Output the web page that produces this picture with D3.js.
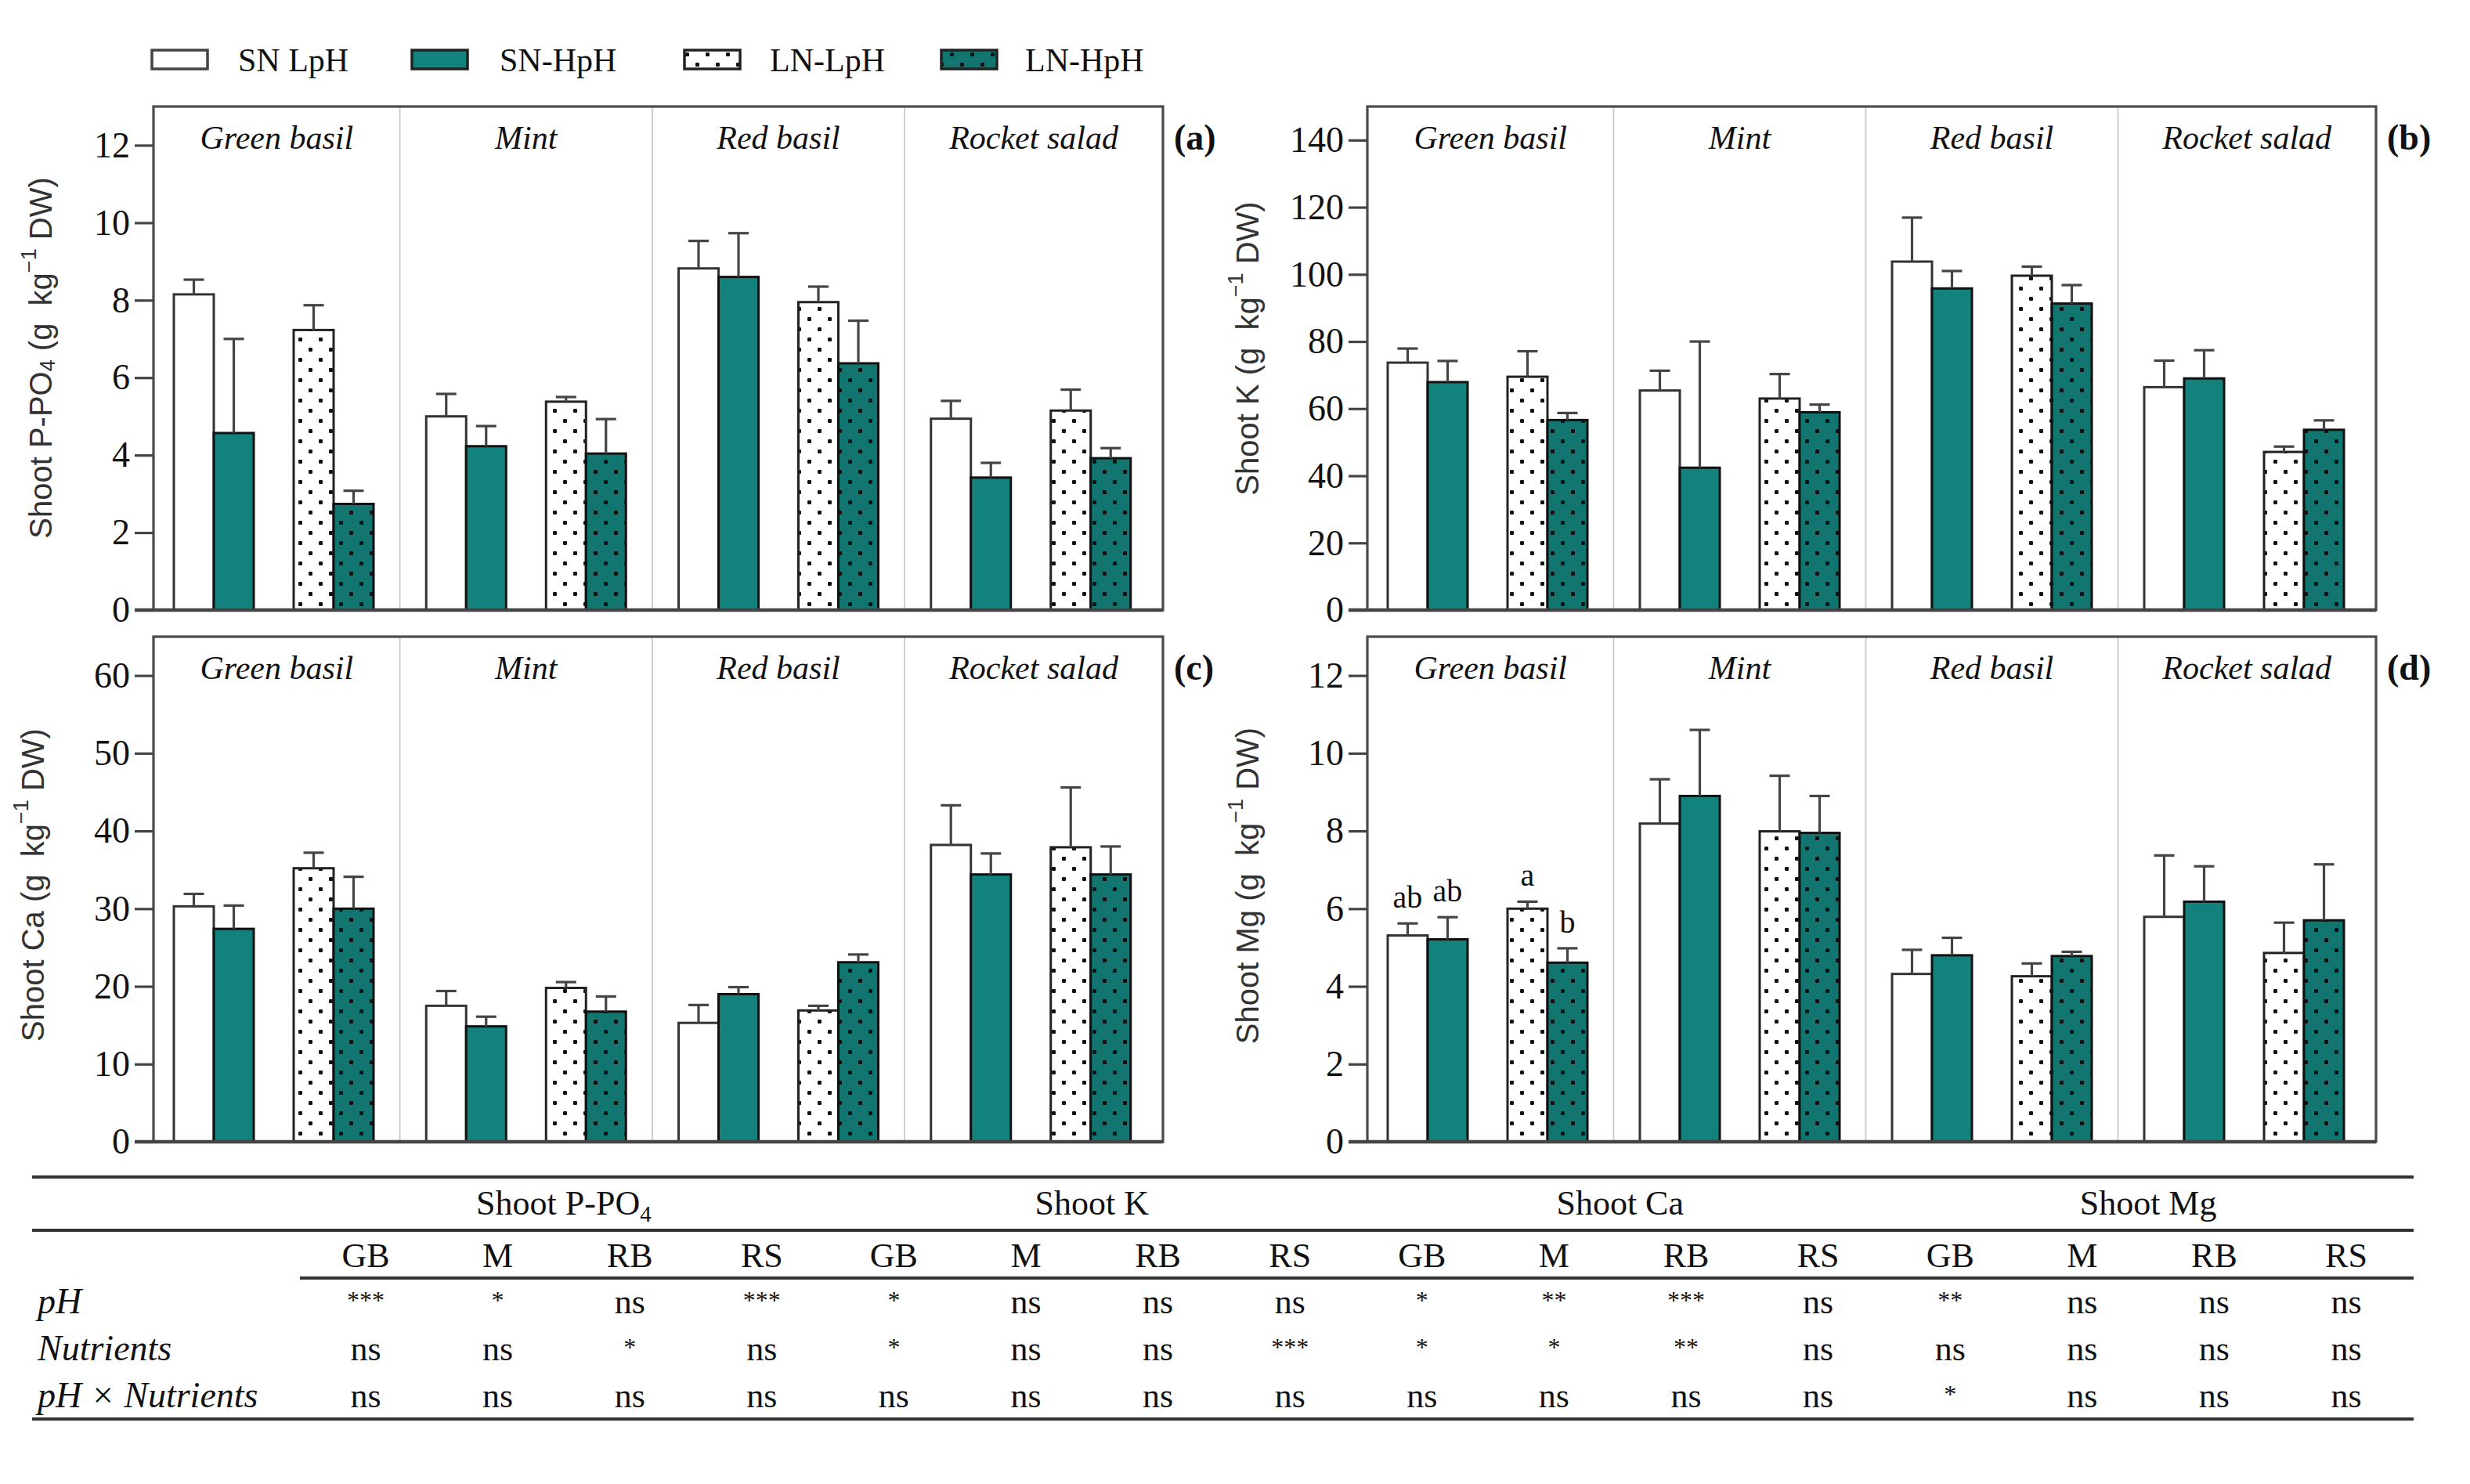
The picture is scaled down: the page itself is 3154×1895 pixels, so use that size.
<!DOCTYPE html>
<html>
<head>
<meta charset="utf-8">
<script src="https://cdn.jsdelivr.net/npm/d3@7"></script>
<style>
body { margin: 0; background: #fff; }
</style>
</head>
<body>
<svg id="chart"></svg>
<script>
var species = ["Green basil", "Mint", "Red basil", "Rocket salad"];
var treatments = ["SN LpH", "SN-HpH", "LN-LpH", "LN-HpH"];

// values per species in treatment order: SN LpH, SN-HpH, LN-LpH, LN-HpH
var pMean = [8.15, 4.57, 7.23, 2.74, 5.00, 4.23, 5.38, 4.04, 8.82, 8.60, 7.95, 6.37, 4.94, 3.42, 5.15, 3.92];
var pErr = [0.38, 2.43, 0.64, 0.34, 0.58, 0.52, 0.12, 0.89, 0.71, 1.13, 0.40, 1.10, 0.46, 0.38, 0.54, 0.26];
var kMean = [73.7, 67.9, 69.5, 56.6, 65.4, 42.4, 63.0, 58.9, 103.8, 95.8, 99.6, 91.3, 66.4, 69.0, 47.1, 53.7];
var kErr = [4.2, 6.3, 7.6, 2.1, 5.9, 37.6, 7.3, 2.3, 13.1, 5.2, 2.7, 5.5, 7.9, 8.4, 1.6, 2.8];
var caMean = [30.3, 27.4, 35.2, 30.0, 17.5, 14.85, 19.8, 16.75, 15.3, 19.0, 16.9, 23.1, 38.2, 34.4, 37.9, 34.4];
var caErr = [1.6, 3.0, 2.0, 4.1, 1.9, 1.25, 0.75, 1.95, 2.3, 0.9, 0.6, 1.0, 5.1, 2.7, 7.7, 3.6];
var mgMean = [5.31, 5.21, 6.00, 4.61, 8.19, 8.90, 7.99, 7.95, 4.32, 4.80, 4.26, 4.78, 5.79, 6.18, 4.86, 5.70];
var mgErr = [0.31, 0.57, 0.18, 0.37, 1.14, 1.70, 1.43, 0.95, 0.62, 0.45, 0.33, 0.11, 1.58, 0.91, 0.78, 1.44];
var mgLetters = ["ab", "ab", "a", "b", "", "", "", "", "", "", "", "", "", "", "", ""];

var pTicks = [0, 2, 4, 6, 8, 10, 12];
var kTicks = [0, 20, 40, 60, 80, 100, 120, 140];
var caTicks = [0, 10, 20, 30, 40, 50, 60];
var mgTicks = [0, 2, 4, 6, 8, 10, 12];

// ANOVA table
var tableGroups = ["Shoot P-PO", "Shoot K", "Shoot Ca", "Shoot Mg"];
var tableCols = ["GB", "M", "RB", "RS"];
var tableRows = ["pH", "Nutrients", "pH \u00d7 Nutrients"];
var tablePH = ["***", "*", "ns", "***", "*", "ns", "ns", "ns", "*", "**", "***", "ns", "**", "ns", "ns", "ns"];
var tableNut = ["ns", "ns", "*", "ns", "*", "ns", "ns", "***", "*", "*", "**", "ns", "ns", "ns", "ns", "ns"];
var tableInt = ["ns", "ns", "ns", "ns", "ns", "ns", "ns", "ns", "ns", "ns", "ns", "ns", "*", "ns", "ns", "ns"];

var serif = "'Liberation Serif', 'Times New Roman', serif";
var sans = "'Liberation Sans', Arial, sans-serif";
var teal = "#13817c";
var tealDark = "#137570";

var svg = d3.select("#chart").attr("width", 3154).attr("height", 1895)
    .style("background", "#fff");

// dotted patterns
var defs = svg.append("defs");
function dotPattern(id, bg) {
    var p = defs.append("pattern").attr("id", id)
        .attr("patternUnits", "userSpaceOnUse")
        .attr("width", 26).attr("height", 26);
    p.append("rect").attr("width", 26).attr("height", 26).attr("fill", bg);
    p.append("rect").attr("x", 4).attr("y", 2).attr("width", 5).attr("height", 5).attr("rx", 1.2).attr("fill", "#111");
    p.append("rect").attr("x", 17).attr("y", 15).attr("width", 5).attr("height", 5).attr("rx", 1.2).attr("fill", "#111");
}
dotPattern("dotW", "#fff");
dotPattern("dotT", tealDark);

var fills = ["#fff", teal, "url(#dotW)", "url(#dotT)"];
var strokes = ["#333", "#111", "#222", "#111"];

// legend
var legendBox = [194, 526, 874, 1202];
var legendText = [304, 638, 983, 1309];
var lg = svg.append("g");
lg.selectAll("rect").data(treatments).enter().append("rect")
    .attr("x", function (d, i) { return legendBox[i]; })
    .attr("y", 64).attr("width", 71).attr("height", 24)
    .attr("fill", function (d, i) { return fills[i]; })
    .attr("stroke", function (d, i) { return i == 0 ? "#444" : "#222"; })
    .attr("stroke-width", 3.5);
lg.selectAll("text").data(treatments).enter().append("text")
    .attr("x", function (d, i) { return legendText[i]; })
    .attr("y", 91)
    .style("font-family", serif).style("font-size", "42px").style("fill", "#111")
    .text(function (d) { return d; });

var panels = [
    {key: "a", mean: pMean, err: pErr, ticks: pTicks, max: 13, L: 196, T: 136, W: 1289, H: 643,
        title: ["Shoot P-PO", "4", " (g\u00a0 kg", "\u22121", " DW)"], tx: 52, ty: 457},
    {key: "b", mean: kMean, err: kErr, ticks: kTicks, max: 150, L: 1746, T: 136, W: 1288, H: 643,
        title: ["Shoot K", "", " (g\u00a0 kg", "\u22121", " DW)"], tx: 1593, ty: 445},
    {key: "c", mean: caMean, err: caErr, ticks: caTicks, max: 65, L: 196, T: 813, W: 1289, H: 645,
        title: ["Shoot Ca", "", " (g\u00a0 kg", "\u22121", " DW)"], tx: 42, ty: 1130},
    {key: "d", mean: mgMean, err: mgErr, ticks: mgTicks, max: 13, L: 1746, T: 813, W: 1288, H: 645,
        title: ["Shoot Mg", "", " (g\u00a0 kg", "\u22121", " DW)"], tx: 1593, ty: 1131, letters: mgLetters}
];

var slots = [0, 1, 3, 4];

panels.forEach(function (cfg) {
    var g = svg.append("g");
    var y = d3.scaleLinear().domain([0, cfg.max]).range([cfg.T + cfg.H, cfg.T]);
    var gx = d3.scaleBand().domain(species).range([cfg.L, cfg.L + cfg.W]);
    var inner = d3.scaleBand().domain(d3.range(5)).range([26, 281]);
    var bw = inner.bandwidth();

    // section dividers, midway between groups
    var divs = species.slice(1).map(function (s, i) {
        var endPrev = gx(species[i]) + inner(4) + bw;
        return (endPrev + gx(s) + inner(0)) / 2;
    });
    g.selectAll(".div").data(divs).enter().append("line")
        .attr("x1", function (d) { return d; }).attr("x2", function (d) { return d; })
        .attr("y1", cfg.T).attr("y2", cfg.T + cfg.H)
        .attr("stroke", "#c4c4c4").attr("stroke-width", 1.6);

    var edges = [cfg.L].concat(divs).concat([cfg.L + cfg.W]);
    g.selectAll(".grp").data(species).enter().append("text")
        .attr("x", function (d, i) { return (edges[i] + edges[i + 1]) / 2; })
        .attr("y", cfg.T + 54)
        .attr("text-anchor", "middle")
        .style("font-family", serif).style("font-style", "italic").style("font-size", "42px")
        .style("fill", "#111")
        .text(function (d) { return d; });

    var data = [];
    species.forEach(function (s, i) {
        treatments.forEach(function (t, j) {
            data.push({s: s, j: j, v: cfg.mean[i * 4 + j], e: cfg.err[i * 4 + j],
                lab: cfg.letters ? cfg.letters[i * 4 + j] : ""});
        });
    });
    function bx(d) { return gx(d.s) + inner(slots[d.j]); }

    g.selectAll(".bar").data(data).enter().append("rect")
        .attr("x", bx).attr("width", bw)
        .attr("y", function (d) { return y(d.v); })
        .attr("height", function (d) { return y(0) - y(d.v); })
        .attr("fill", function (d) { return fills[d.j]; })
        .attr("stroke", function (d) { return strokes[d.j]; })
        .attr("stroke-width", 3);

    var eb = g.selectAll(".eb").data(data).enter().append("g")
        .attr("stroke", "#444").attr("stroke-width", 3.2);
    eb.append("line")
        .attr("x1", function (d) { return bx(d) + bw / 2; })
        .attr("x2", function (d) { return bx(d) + bw / 2; })
        .attr("y1", function (d) { return y(d.v); })
        .attr("y2", function (d) { return y(d.v + d.e); });
    eb.append("line")
        .attr("x1", function (d) { return bx(d) + bw / 2 - 13; })
        .attr("x2", function (d) { return bx(d) + bw / 2 + 13; })
        .attr("y1", function (d) { return y(d.v + d.e); })
        .attr("y2", function (d) { return y(d.v + d.e); });

    g.selectAll(".lab").data(data.filter(function (d) { return d.lab; })).enter().append("text")
        .attr("x", function (d) { return bx(d) + bw / 2; })
        .attr("y", function (d) { return y(d.v + d.e) - 20; })
        .attr("text-anchor", "middle")
        .style("font-family", serif).style("font-size", "40px").style("fill", "#111")
        .text(function (d) { return d.lab; });

    // frame
    g.append("rect").attr("x", cfg.L).attr("y", cfg.T).attr("width", cfg.W).attr("height", cfg.H)
        .attr("fill", "none").attr("stroke", "#4a4a4a").attr("stroke-width", 3.2);

    var ax = g.append("g").attr("transform", "translate(" + cfg.L + ",0)")
        .call(d3.axisLeft(y).tickValues(cfg.ticks).tickSize(24).tickPadding(6).tickFormat(d3.format("d")));
    ax.select(".domain").remove();
    ax.selectAll(".tick line").attr("stroke", "#444").attr("stroke-width", 3.2);
    ax.selectAll(".tick text").style("font-family", serif).style("font-size", "46px").style("fill", "#111");

    g.append("line").attr("x1", cfg.L - 24).attr("x2", cfg.L + cfg.W)
        .attr("y1", y(0)).attr("y2", y(0))
        .attr("stroke", "#444").attr("stroke-width", 4.5);

    g.append("text").attr("x", cfg.L + cfg.W + 14).attr("y", cfg.T + 55)
        .style("font-family", serif).style("font-weight", "bold").style("font-size", "46px")
        .style("fill", "#111")
        .text("(" + cfg.key + ")");

    // y title
    var tt = g.append("text")
        .attr("transform", "translate(" + cfg.tx + "," + cfg.ty + ") rotate(-90)")
        .attr("text-anchor", "middle").attr("dominant-baseline", "central")
        .style("font-family", sans).style("font-size", "40px").style("fill", "#333");
    tt.append("tspan").text(cfg.title[0]);
    if (cfg.title[1]) {
        tt.append("tspan").attr("dy", 9).style("font-size", "27px").text(cfg.title[1]);
        tt.append("tspan").attr("dy", -9).text(cfg.title[2]);
    } else {
        tt.append("tspan").text(cfg.title[2]);
    }
    tt.append("tspan").attr("dy", -15).style("font-size", "27px").text(cfg.title[3]);
    tt.append("tspan").attr("dy", 15).text(cfg.title[4]);
});

// ANOVA table
var tg = svg.append("g").style("font-family", serif).style("fill", "#111");
var colX = d3.scaleLinear().domain([0, 15]).range([467, 2996]);
var rowY = d3.scaleLinear().domain([0, 2]).range([1677, 1797]);

[1503, 1571, 1812].forEach(function (yy) {
    tg.append("line").attr("x1", 41).attr("x2", 3082).attr("y1", yy).attr("y2", yy)
        .attr("stroke", "#333").attr("stroke-width", 4);
});
tg.append("line").attr("x1", 383).attr("x2", 3082).attr("y1", 1632).attr("y2", 1632)
    .attr("stroke", "#333").attr("stroke-width", 4);

tableGroups.forEach(function (name, i) {
    var t = tg.append("text").attr("x", (colX(i * 4 + 1) + colX(i * 4 + 2)) / 2).attr("y", 1551)
        .attr("text-anchor", "middle").style("font-size", "44px");
    t.append("tspan").text(name);
    if (i == 0) {
        t.append("tspan").attr("dy", 9).style("font-size", "29px").text("4");
    }
});

d3.range(16).forEach(function (c) {
    tg.append("text").attr("x", colX(c)).attr("y", 1618).attr("text-anchor", "middle")
        .style("font-size", "44px").text(tableCols[c % 4]);
});

tg.selectAll(".rowlab").data(tableRows).enter().append("text")
    .attr("x", 48).attr("y", function (d, i) { return rowY(i); })
    .style("font-size", "46px").style("font-style", "italic")
    .text(function (d) { return d; });

[tablePH, tableNut, tableInt].forEach(function (row, r) {
    tg.selectAll(".cell" + r).data(row).enter().append("text")
        .attr("x", function (d, c) { return colX(c); })
        .attr("y", function (d) { return d == "ns" ? rowY(r) : rowY(r) - 6; })
        .attr("text-anchor", "middle")
        .style("font-size", function (d) { return d == "ns" ? "44px" : "32px"; })
        .text(function (d) { return d; });
});
</script>
</body>
</html>
